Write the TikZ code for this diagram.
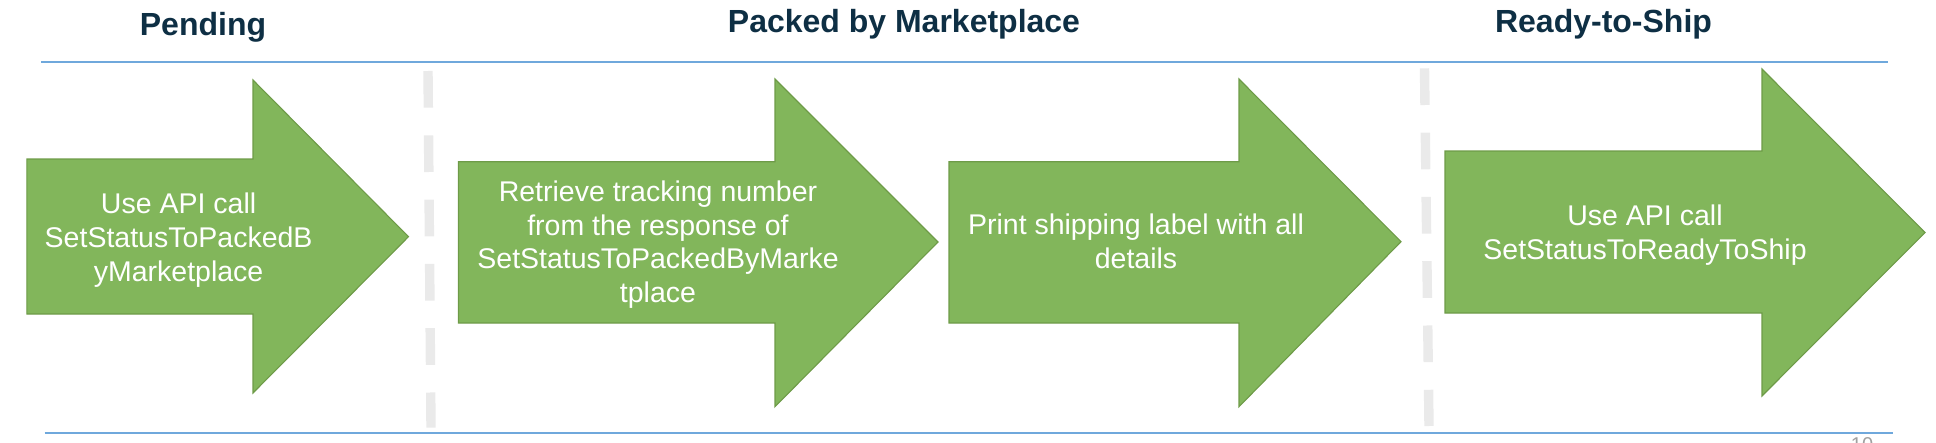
\documentclass[tikz,border=0pt]{standalone}
\usepackage{fontspec}
\setmainfont{Liberation Sans}
\definecolor{grn}{HTML}{82B65B}
\definecolor{grnline}{HTML}{6E9B48}
\definecolor{blu}{HTML}{6FA8DC}
\definecolor{sepgray}{HTML}{EAEAEA}
\definecolor{navy}{HTML}{0E2F44}
\definecolor{pagegray}{HTML}{A0A0A0}
\begin{document}
\begin{tikzpicture}[x=1pt,y=-1pt,
  bigarrow/.style={fill=grn,draw=grnline,line width=1.1pt,line join=miter},
  arrowtext/.style={text=white,font=\fontsize{28.5}{33.7}\selectfont,align=center,anchor=base,inner sep=0pt},
  titletext/.style={text=navy,font=\fontsize{32}{38}\selectfont\bfseries,anchor=base,inner sep=0pt},
  rule/.style={draw=blu,line width=2pt},
  sepline/.style={draw=sepgray,line width=9.4pt,dash pattern=on 36.7pt off 27.6pt}]
\useasboundingbox (0,0) rectangle (1936,442);

% titles
\node[titletext] (h1) at (203,35) {Pending};
\node[titletext] (h2) at (904,32) {Packed by Marketplace};
\node[titletext] (h3) at (1603.5,32) {Ready-to-Ship};

% horizontal rules
\coordinate (r1a) at (41,61.7);
\coordinate (r1b) at (1888,61.7);
\coordinate (r2a) at (44.6,433);
\coordinate (r2b) at (1893,433);
\draw[rule] (r1a) -- (r1b);
\draw[rule] (r2a) -- (r2b);

% separators
\coordinate (s1a) at (428,71);
\coordinate (s1b) at (431,427.7);
\coordinate (s2a) at (1424.5,68.3);
\coordinate (s2b) at (1429,426);
\draw[sepline] (s1a) -- (s1b);
\draw[sepline] (s2a) -- (s2b);

% arrows
\draw[bigarrow] (26.8,159) -- (253,159) -- (253,80) -- (408.5,236.7) -- (253,393) -- (253,314) -- (26.8,314) -- cycle;
\draw[bigarrow] (458.5,161.7) -- (775,161.7) -- (775,79) -- (938,242) -- (775,406.7) -- (775,323) -- (458.5,323) -- cycle;
\draw[bigarrow] (949,161.7) -- (1239,161.7) -- (1239,79) -- (1401,241.7) -- (1239,406.7) -- (1239,323) -- (949,323) -- cycle;
\draw[bigarrow] (1445,151) -- (1762,151) -- (1762,69) -- (1925,232.5) -- (1762,396) -- (1762,313) -- (1445,313) -- cycle;

% arrow texts (anchor = baseline of last line)
\node[arrowtext] (t1) at (178.6,281) {Use API call\\SetStatusToPackedB\\yMarketplace};
\node[arrowtext] (t2) at (658,302.5) {Retrieve tracking number\\from the response of\\SetStatusToPackedByMarke\\tplace};
\node[arrowtext] (t3) at (1136,268.5) {Print shipping label with all\\details};
\node[arrowtext] (t4) at (1645,259.5) {Use API call\\SetStatusToReadyToShip};

% page number (cut off)
\node[text=pagegray,font=\fontsize{20}{24}\selectfont,anchor=north,inner sep=0pt] (pg) at (1862,437.5) {10};
\end{tikzpicture}
\end{document}
